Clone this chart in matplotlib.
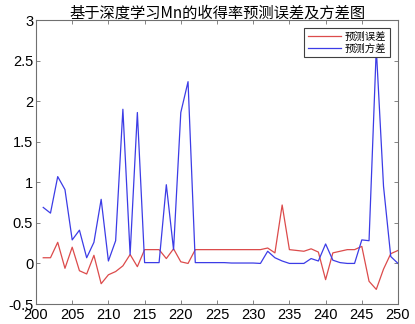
import numpy as np
import matplotlib
matplotlib.use("Agg")
import matplotlib.pyplot as plt

# sample index on the x axis
samples = np.arange(201, 251)

# prediction error (red) and prediction variance (blue)
pred_error = [
    0.07, 0.07, 0.26, -0.06, 0.20, -0.09, -0.13, 0.10, -0.25, -0.14,
    -0.10, -0.03, 0.11, -0.04, 0.17, 0.17, 0.17, 0.06, 0.18, 0.02,
    0.00, 0.17, 0.17, 0.17, 0.17, 0.17, 0.17, 0.17, 0.17, 0.17,
    0.17, 0.19, 0.13, 0.72, 0.17, 0.16, 0.15, 0.18, 0.14, -0.20,
    0.13, 0.15, 0.17, 0.17, 0.21, -0.22, -0.32, -0.07, 0.12, 0.16,
]
pred_var = [
    0.69, 0.62, 1.07, 0.91, 0.29, 0.41, 0.07, 0.26, 0.79, 0.03,
    0.28, 1.90, 0.11, 1.86, 0.01, 0.01, 0.01, 0.97, 0.17, 1.86,
    2.24, 0.01, 0.01, 0.01, 0.01, 0.01, 0.005, 0.005, 0.005, 0.005,
    0.00, 0.15, 0.07, 0.03, 0.00, 0.00, 0.00, 0.06, 0.03, 0.24,
    0.04, 0.01, 0.00, 0.00, 0.29, 0.28, 2.65, 0.95, 0.085, 0.00,
]

TITLE = "基于深度学习Mn的收得率预测误差及方差图"
LABELS = ["预测误差", "预测方差"]

plt.rcParams["font.family"] = ["Liberation Sans", "Noto Sans CJK SC", "DejaVu Sans"]

fig = plt.figure(figsize=(4.15, 3.24), dpi=100)
ax = fig.add_axes([36 / 415, 20 / 324, 362 / 415, 284 / 324])

ax.plot(samples, pred_error, color="#dc4b4b", linewidth=0.9, label=LABELS[0])
ax.plot(samples, pred_var, color="#3c3ce6", linewidth=0.9, label=LABELS[1])

ax.set_xlim(200, 250)
ax.set_ylim(-0.5, 3)
ax.set_xticks(np.arange(200, 251, 5))
ax.set_yticks(np.arange(-0.5, 3.01, 0.5))
ax.set_yticklabels(["-0.5", "0", "0.5", "1", "1.5", "2", "2.5", "3"])
ax.tick_params(direction="in", top=True, right=True, length=3, width=0.6,
               color="#707070", labelsize=10.5, pad=2)
ax.tick_params(axis="x", pad=3)
for spine in ax.spines.values():
    spine.set_color("#707070")
    spine.set_linewidth(0.8)

ax.set_title(TITLE, family=["Noto Sans CJK SC"], fontsize=11, fontweight="medium", pad=2)

leg = ax.legend(loc="upper right", prop={"family": ["Noto Sans CJK SC"], "size": 7.5},
                fancybox=False, framealpha=1, edgecolor="#404040",
                handlelength=3.2, handletextpad=0.4, borderpad=0.3,
                labelspacing=0.2, borderaxespad=0.8)
leg.get_frame().set_linewidth(0.8)

fig.savefig("out.png", dpi=100)
